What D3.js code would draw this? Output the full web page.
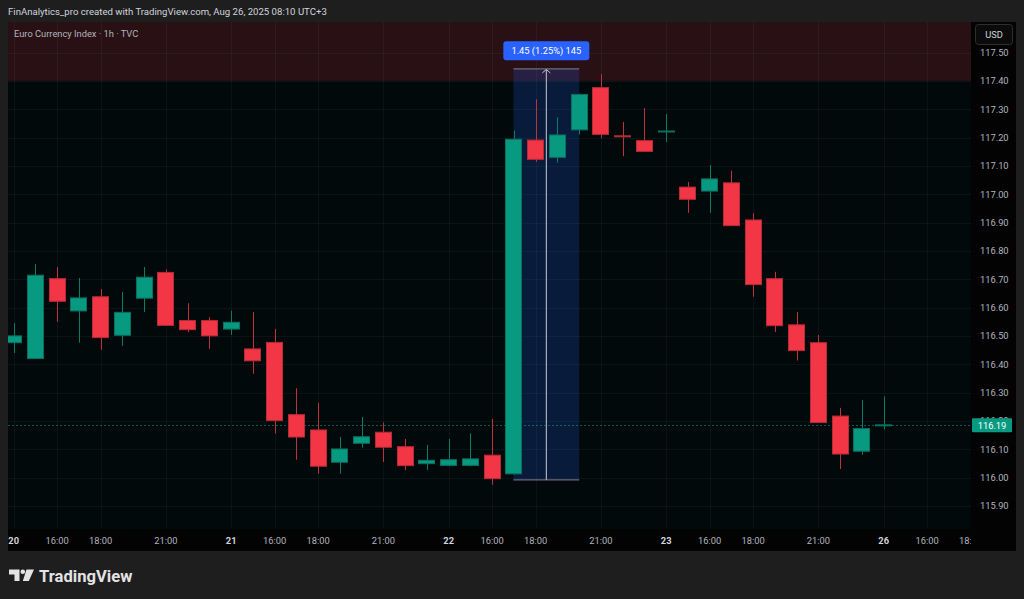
<!DOCTYPE html>
<html>
<head>
<meta charset="utf-8">
<script src="https://cdn.jsdelivr.net/npm/d3@7"></script>
<style>
  html, body { margin: 0; padding: 0; background: #1e1e1e; }
  svg { display: block; }
  text { font-family: Roboto, "Noto Sans", sans-serif; }
</style>
</head>
<body>
<svg id="chart" width="1024" height="599"></svg>
<script>
// ---------- DATA ----------
const opens  = [116.476,116.420,116.702,116.588,116.638,116.502,116.633,116.724,116.554,116.554,
                116.524,116.454,116.477,116.222,116.168,116.054,116.121,116.160,116.109,116.049,
                116.043,116.043,116.079,116.013,117.191,117.130,117.227,117.376,117.206,117.189,
                117.221,117.025,117.011,117.040,116.909,116.702,116.539,116.476,116.217,116.093,
                116.183];
const highs  = [116.545,116.754,116.743,116.704,116.665,116.655,116.743,116.734,116.615,116.566,
                116.589,116.584,116.524,116.315,116.264,116.143,116.214,116.194,116.136,116.115,
                116.136,116.156,116.207,117.224,117.335,117.272,117.355,117.424,117.255,117.304,
                117.283,117.043,117.103,117.083,116.933,116.726,116.584,116.503,116.246,116.274,
                116.286];
const lows   = [116.440,116.418,116.550,116.476,116.451,116.465,116.584,116.535,116.513,116.454,
                116.503,116.366,116.155,116.063,116.014,116.014,116.106,116.055,116.026,116.027,
                116.040,116.040,115.975,116.010,117.114,117.111,117.210,117.198,117.134,117.150,
                117.184,116.934,116.934,116.888,116.638,116.514,116.413,116.193,116.030,116.080,
                116.170];
const closes = [116.500,116.714,116.622,116.634,116.494,116.583,116.707,116.537,116.522,116.500,
                116.548,116.412,116.201,116.143,116.040,116.101,116.144,116.107,116.042,116.061,
                116.063,116.066,115.996,117.194,117.123,117.209,117.352,117.211,117.203,117.151,
                117.223,116.982,117.054,116.889,116.681,116.536,116.448,116.194,116.083,116.173,
                116.186];

// time-axis ticks (bar index -> label), day labels bold
const timeTickIndex = [0, 2, 4, 7, 10, 12, 14, 17, 20, 22, 24, 27, 30, 32, 34, 37, 40, 42, 44];
const timeTickLabel = ["20","16:00","18:00","21:00","21","16:00","18:00","21:00","22","16:00","18:00","21:00","23","16:00","18:00","21:00","26","16:00","18:00"];
const timeTickIsDay = [true,false,false,false,true,false,false,false,true,false,false,false,true,false,false,false,true,false,false];

const priceTicks = [117.5,117.4,117.3,117.2,117.1,117.0,116.9,116.8,116.7,116.6,116.5,116.4,116.3,116.2,116.1,116.0,115.9];

// highlighted zone (price above)
const zoneFrom = [117.40];
// measurement drawing
const measureBars = [23, 26];
const measurePrices = [115.992, 117.442];

const headerText = "FinAnalytics_pro created with TradingView.com, Aug 26, 2025 08:10 UTC+3";
const paneTitle = "Euro Currency Index \u00b7 1h \u00b7 TVC";
const currency = "USD";

// ---------- LAYOUT ----------
const pane = {x0: 8, x1: 971, y0: 22, y1: 529};
const axisR = 1016, axisB = 551;
const UP = "#089981", DOWN = "#F23645";
const FS = 9.3;

const svg = d3.select("#chart");

const x = d3.scaleLinear().domain([0, 40]).range([13.7, 883.7]);
const y = d3.scaleLinear().domain([115.9, 117.5]).range([505.9, 52.5]);
const bodyW = 17;

// outer background
svg.append("rect").attr("width", 1024).attr("height", 599).attr("fill", "#1e1e1e");
// axes background
svg.append("rect").attr("x", pane.x0).attr("y", pane.y0).attr("width", axisR - pane.x0).attr("height", axisB - pane.y0).attr("fill", "#030303");
// pane background
svg.append("rect").attr("x", pane.x0).attr("y", pane.y0).attr("width", pane.x1 - pane.x0).attr("height", pane.y1 - pane.y0).attr("fill", "#02090b");

const defs = svg.append("defs");
defs.append("clipPath").attr("id", "paneClip")
  .append("rect").attr("x", pane.x0).attr("y", pane.y0).attr("width", pane.x1 - pane.x0).attr("height", pane.y1 - pane.y0);
defs.append("clipPath").attr("id", "timeClip")
  .append("rect").attr("x", pane.x0).attr("y", pane.y1).attr("width", pane.x1 - pane.x0).attr("height", axisB - pane.y1);

const g = svg.append("g").attr("clip-path", "url(#paneClip)");

// red zone
g.append("rect")
  .attr("x", pane.x0).attr("y", pane.y0)
  .attr("width", pane.x1 - pane.x0).attr("height", y(zoneFrom[0]) - pane.y0)
  .attr("fill", "rgba(242,54,69,0.16)");

// grid
g.selectAll("line.hg").data(priceTicks).join("line")
  .attr("x1", pane.x0).attr("x2", pane.x1)
  .attr("y1", d => Math.round(y(d)) + 0.5).attr("y2", d => Math.round(y(d)) + 0.5)
  .attr("stroke", "rgba(255,255,255,0.045)");
g.selectAll("line.vg").data(timeTickIndex).join("line")
  .attr("y1", pane.y0).attr("y2", pane.y1)
  .attr("x1", d => Math.round(x(d)) + 0.5).attr("x2", d => Math.round(x(d)) + 0.5)
  .attr("stroke", "rgba(255,255,255,0.045)");

// measurement box
const mx0 = x(measureBars[0]) - 0.5, mx1 = x(measureBars[1]);
const myTop = y(measurePrices[1]), myBot = y(measurePrices[0]);
g.append("rect").attr("x", mx0).attr("y", myTop).attr("width", mx1 - mx0).attr("height", myBot - myTop)
  .attr("fill", "rgba(41,98,255,0.2)");
g.append("line").attr("x1", mx0).attr("x2", mx1).attr("y1", myTop).attr("y2", myTop).attr("stroke", "#6b6e78").attr("stroke-width", 1.2);
g.append("line").attr("x1", mx0).attr("x2", mx1).attr("y1", myBot).attr("y2", myBot).attr("stroke", "#6b6e78").attr("stroke-width", 1.2);
const mcx = (mx0 + mx1) / 2;
g.append("line").attr("x1", mcx).attr("x2", mcx).attr("y1", myBot).attr("y2", myTop + 1).attr("stroke", "#c8cad0").attr("stroke-width", 1);
g.append("path").attr("d", `M${mcx - 4},${myTop + 4} L${mcx},${myTop + 0.5} L${mcx + 4},${myTop + 4}`)
  .attr("fill", "none").attr("stroke", "#c8cad0").attr("stroke-width", 1);

// last price line
const lastClose = closes[closes.length - 1];
g.append("line").attr("x1", pane.x0).attr("x2", pane.x1)
  .attr("y1", Math.round(y(lastClose)) + 0.5).attr("y2", Math.round(y(lastClose)) + 0.5)
  .attr("stroke", UP).attr("stroke-opacity", 0.6).attr("stroke-dasharray", "2,2");

// candles
const candles = opens.map((o, i) => ({i, o, h: highs[i], l: lows[i], c: closes[i]}));
const cg = g.selectAll("g.candle").data(candles).join("g").attr("class", "candle");
cg.append("line")
  .attr("x1", d => Math.round(x(d.i)) + 0.5).attr("x2", d => Math.round(x(d.i)) + 0.5)
  .attr("y1", d => y(d.h)).attr("y2", d => y(d.l))
  .attr("stroke", d => d.c >= d.o ? "#0a7d6a" : "#c0303d").attr("stroke-width", 1);
cg.append("rect")
  .attr("x", d => Math.round(x(d.i) - bodyW / 2) + 0.5)
  .attr("width", bodyW - 1)
  .attr("y", d => y(Math.max(d.o, d.c)))
  .attr("height", d => Math.max(1, y(Math.min(d.o, d.c)) - y(Math.max(d.o, d.c))))
  .attr("fill", d => d.c >= d.o ? UP : DOWN)
  .attr("stroke", d => d.c >= d.o ? "#07705f" : "#b82a36").attr("stroke-width", 1);

// pane title
svg.append("text").attr("x", 14).attr("y", 36.8).attr("font-size", FS).attr("fill", "#b2b5be").text(paneTitle);

// measurement label
const lblW = 86, lblH = 19;
svg.append("rect").attr("x", mcx - lblW / 2).attr("y", 41.3).attr("width", lblW).attr("height", lblH).attr("rx", 3)
  .attr("fill", "#2962ff");
const diff = measurePrices[1] - measurePrices[0];
const pct = diff / measurePrices[0] * 100;
svg.append("text").attr("x", mcx).attr("y", 54).attr("text-anchor", "middle").attr("font-size", FS).attr("fill", "#ffffff")
  .text(`${diff.toFixed(2)} (${pct.toFixed(2)}%) ${Math.round(diff * 100)}`);

// price axis labels
svg.selectAll("text.py").data(priceTicks).join("text").attr("class", "py")
  .attr("x", 980).attr("y", d => y(d) + 3.4).attr("font-size", FS).attr("fill", "#b2b5be")
  .text(d => d.toFixed(2));

// USD button
svg.append("rect").attr("x", 975.5).attr("y", 24.5).attr("width", 37).attr("height", 20).attr("rx", 3)
  .attr("fill", "#0b0b0b").attr("stroke", "#2f2f2f");
svg.append("text").attr("x", 994).attr("y", 37.8).attr("text-anchor", "middle").attr("font-size", FS).attr("fill", "#d1d4dc").text(currency);

// last price label
const ly = y(lastClose);
svg.append("rect").attr("x", 972).attr("y", ly - 6.5).attr("width", 40).attr("height", 14).attr("rx", 1).attr("fill", UP);
svg.append("text").attr("x", 992).attr("y", ly + 3.9).attr("text-anchor", "middle").attr("font-size", FS).attr("fill", "#ffffff")
  .text(lastClose.toFixed(2));

// time axis labels
const tg = svg.append("g").attr("clip-path", "url(#timeClip)");
tg.selectAll("text").data(timeTickIndex).join("text")
  .attr("x", d => x(d)).attr("y", 544.2).attr("text-anchor", "middle").attr("font-size", FS)
  .attr("font-weight", (d, k) => timeTickIsDay[k] ? 700 : 400)
  .attr("fill", (d, k) => timeTickIsDay[k] ? "#d1d4dc" : "#b2b5be")
  .text((d, k) => timeTickLabel[k]);

// header text
svg.append("text").attr("x", 8).attr("y", 15.3).attr("font-size", 9.6).attr("fill", "#d1d4dc").text(headerText);

// TradingView logo
const logo = svg.append("g").attr("fill", "#e3e3e3");
logo.append("path").attr("d", "M9,569.5 L19.5,569.5 L19.5,581 L14.5,581 L14.5,574.5 L9,574.5 Z");
logo.append("circle").attr("cx", 22.8).attr("cy", 571.8).attr("r", 2.3);
logo.append("path").attr("d", "M26.5,569.5 L34,569.5 L28.8,581 L22.8,581 Z");
logo.append("text").attr("x", 39).attr("y", 581.5).attr("font-size", 16.6).attr("font-weight", 700).attr("fill", "#e3e3e3").text("TradingView");
</script>
</body>
</html>
